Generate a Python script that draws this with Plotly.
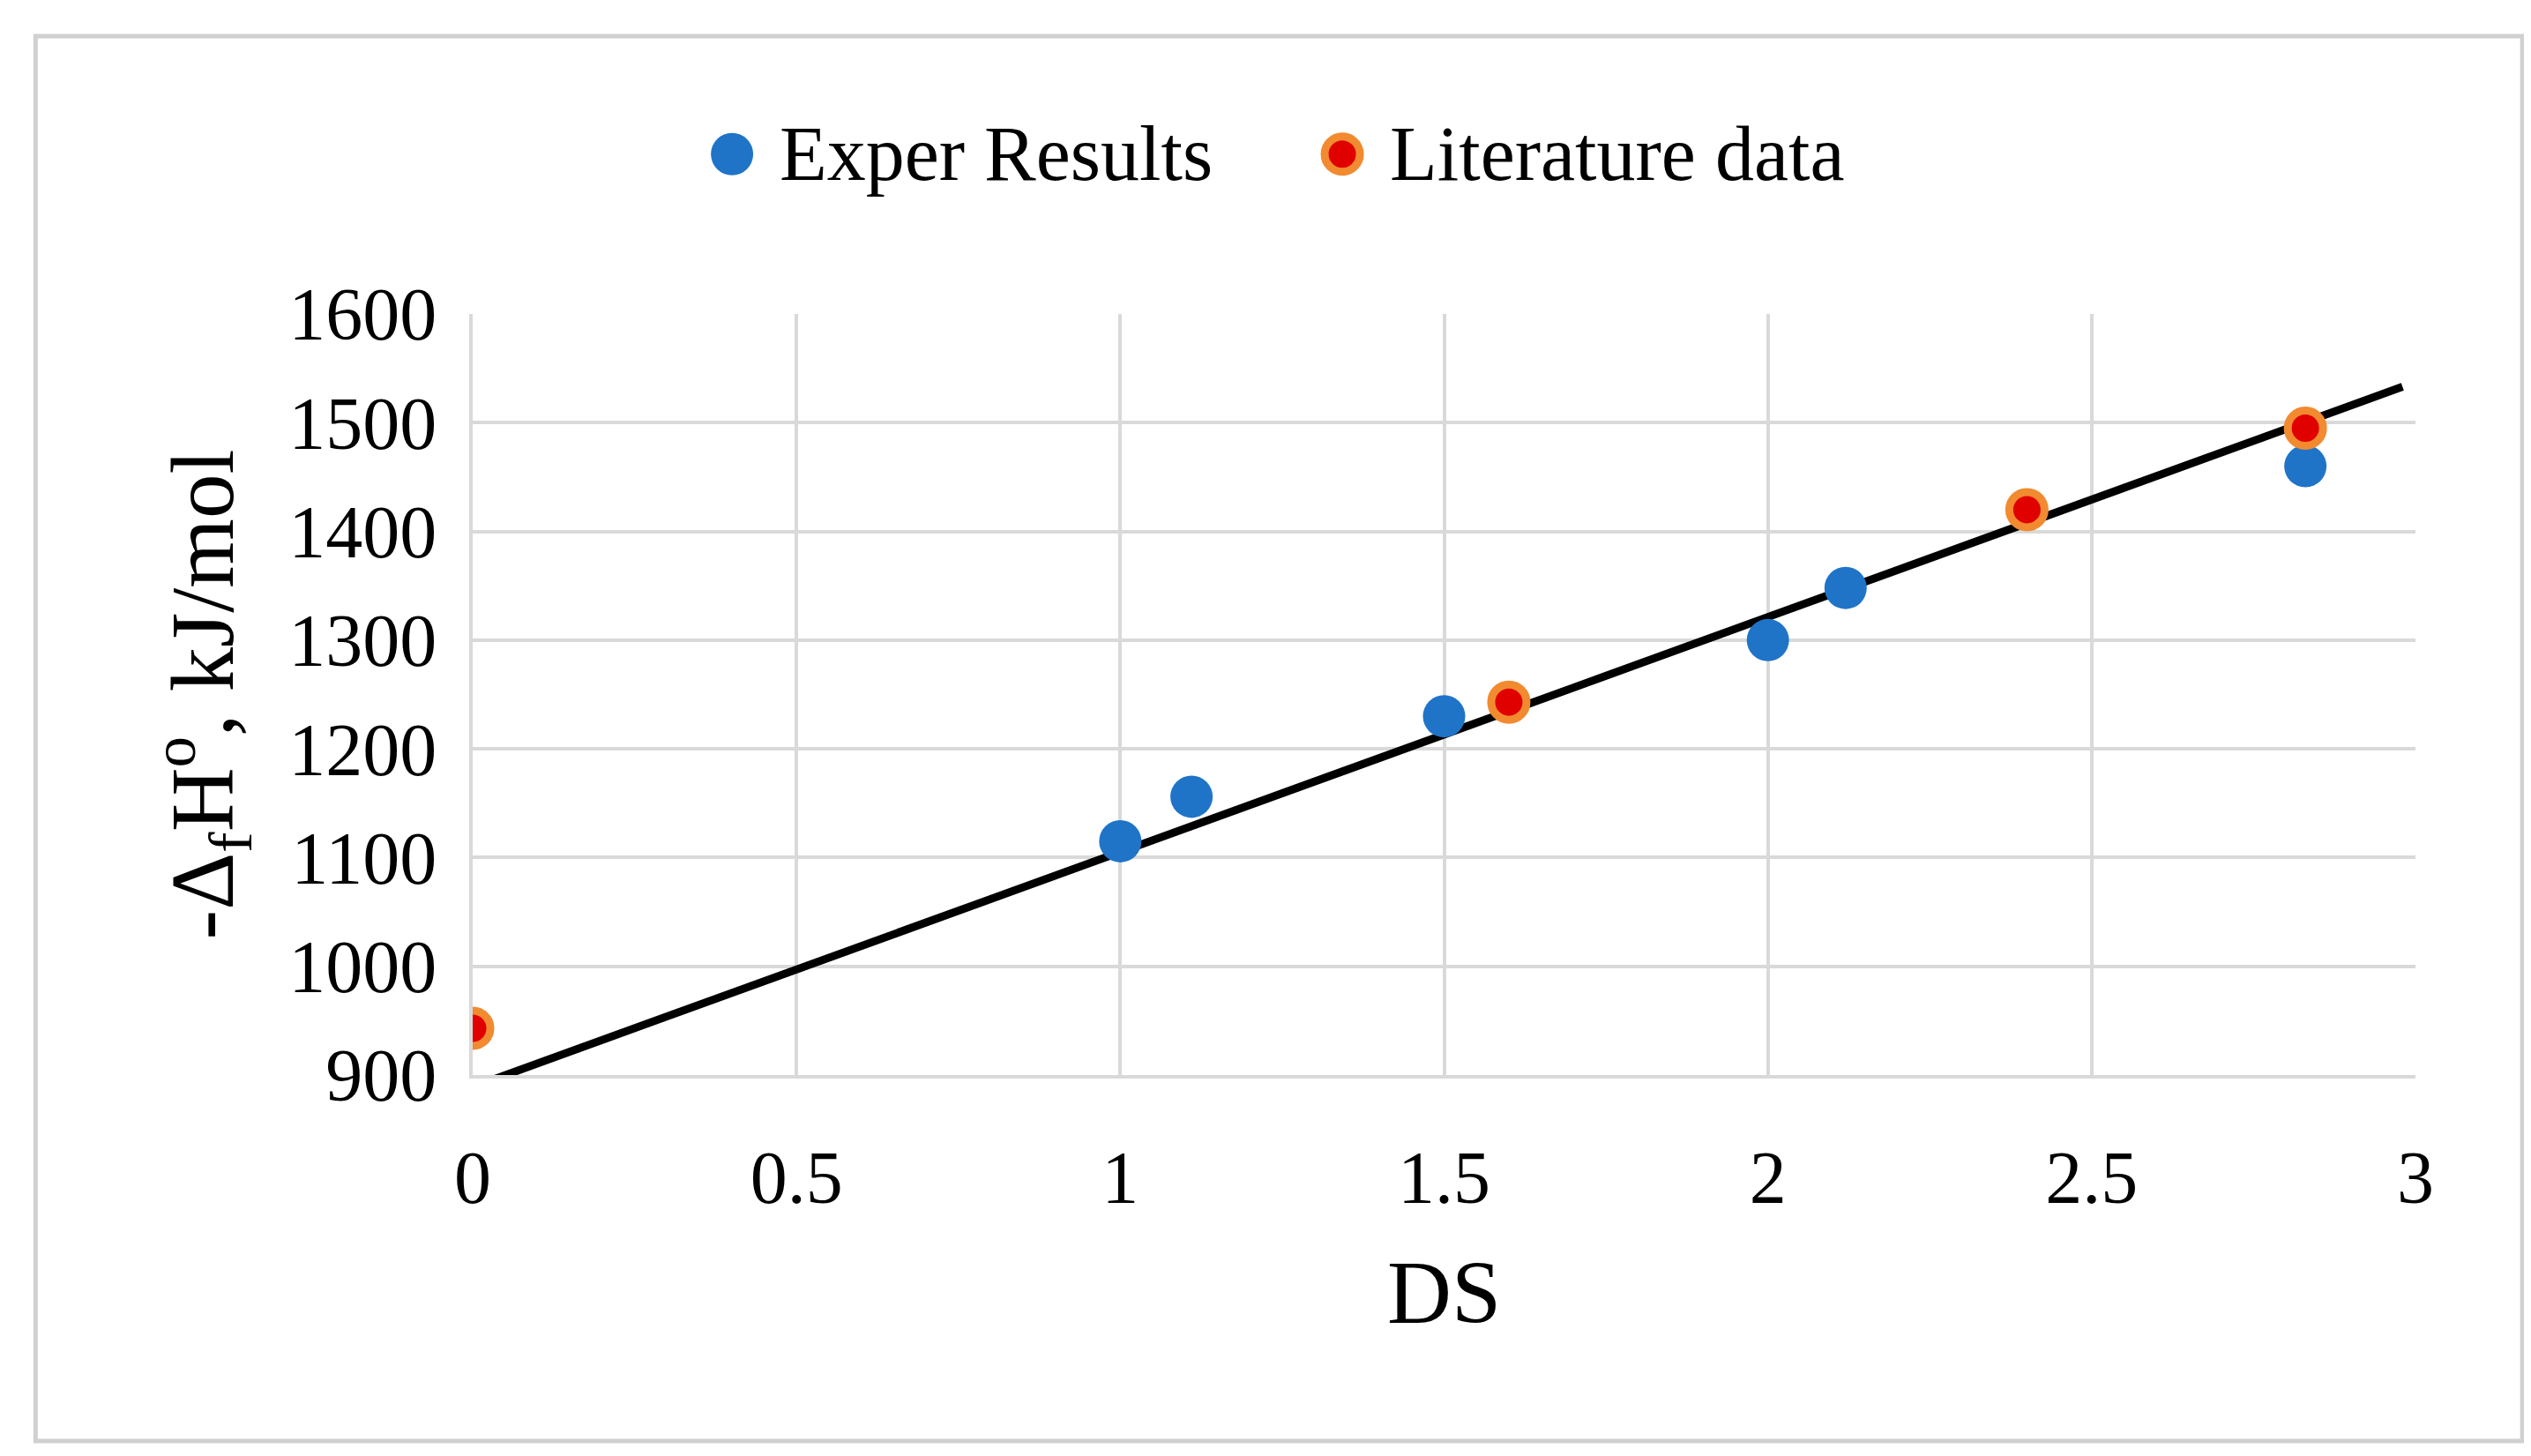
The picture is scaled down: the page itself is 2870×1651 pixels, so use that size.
import plotly.graph_objects as go

# data
exper_ds = [1.0, 1.11, 1.5, 2.0, 2.12, 2.83]
exper_h = [1115, 1156, 1230, 1300, 1348, 1460]
lit_ds = [0.0, 1.6, 2.4, 2.83]
lit_h = [943, 1243, 1420, 1495]
trend_ds = [0.0, 2.98]
trend_h = [889, 1533]

font = "Liberation Serif"
blue = "#1F74C8"
red = "#E00000"
orange = "#F28A30"

fig = go.Figure()
fig.add_trace(go.Scatter(x=trend_ds, y=trend_h, mode="lines",
                         line=dict(color="black", width=9), showlegend=False))
fig.add_trace(go.Scatter(x=exper_ds, y=exper_h, mode="markers", name="Exper Results",
                         marker=dict(color=blue, size=48), showlegend=False))
fig.add_trace(go.Scatter(x=lit_ds, y=lit_h, mode="markers", name="Literature data",
                         marker=dict(color=red, size=40, line=dict(color=orange, width=9)),
                         showlegend=False))

# hand-made legend with big markers, like the reference
leg_y = 1.21
shapes = [
    dict(type="rect", xref="paper", yref="paper", x0=-0.225, x1=1.055,
         y0=-0.481, y1=1.365, line=dict(color="#d0d0d0", width=5)),
    dict(type="circle", xref="paper", yref="paper", xsizemode="pixel", ysizemode="pixel",
         xanchor=0.1335, yanchor=leg_y, x0=-24, x1=24, y0=-24, y1=24,
         fillcolor=blue, line=dict(width=0)),
    dict(type="circle", xref="paper", yref="paper", xsizemode="pixel", ysizemode="pixel",
         xanchor=0.4476, yanchor=leg_y, x0=-20, x1=20, y0=-20, y1=20,
         fillcolor=red, line=dict(color=orange, width=9)),
]
annotations = [
    dict(text="Exper Results", xref="paper", yref="paper", x=0.157, y=leg_y,
         xanchor="left", yanchor="middle", showarrow=False, font=dict(size=88)),
    dict(text="Literature data", xref="paper", yref="paper", x=0.471, y=leg_y,
         xanchor="left", yanchor="middle", showarrow=False, font=dict(size=88)),
]

fig.update_layout(
    width=2870, height=1651,
    paper_bgcolor="white", plot_bgcolor="white",
    font=dict(family=font, size=84, color="black"),
    margin=dict(l=528, r=139, t=348, b=440),
    showlegend=False,
    shapes=shapes,
    annotations=annotations,
)
fig.update_xaxes(range=[0, 3], dtick=0.5, showgrid=True, gridcolor="#d9d9d9", gridwidth=4,
                 showline=True, linecolor="#d9d9d9", linewidth=4, zeroline=False,
                 ticks="", ticklabelstandoff=40,
                 title=dict(text="DS", standoff=50))
fig.update_yaxes(range=[900, 1600], dtick=100, showgrid=True, gridcolor="#d9d9d9", gridwidth=4,
                 showline=True, linecolor="#d9d9d9", linewidth=4, zeroline=False,
                 ticks="", ticklabelstandoff=20,
                 title=dict(text="-Δ<sub>f</sub>H<sup>o</sup>, kJ/mol", standoff=30))

fig.write_html("out.html")
